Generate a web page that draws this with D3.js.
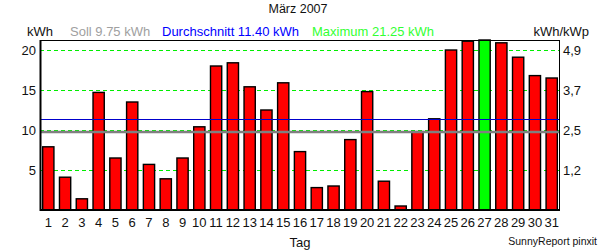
<!DOCTYPE html>
<html>
<head>
<meta charset="utf-8">
<script src="https://cdn.jsdelivr.net/npm/d3@7"></script>
<style>
  body { margin: 0; background: #fff; }
  svg text { font-family: "Liberation Sans", Arial, sans-serif; }
</style>
</head>
<body>
<svg id="chart" width="600" height="250"></svg>
<script>
// daily yield, März 2007 (kWh)
var days = d3.range(1, 32).map(String);
var yieldKwh = [7.9, 4.1, 1.4, 14.7, 6.5, 13.5, 5.7, 3.9, 6.5, 10.4,
                18.0, 18.4, 15.4, 12.5, 15.9, 7.3, 2.8, 3.0, 8.8, 14.8,
                3.6, 0.5, 9.8, 11.4, 20.0, 21.1, 21.25, 20.9, 19.1, 16.8, 16.5];
var leftTicks = [5, 10, 15, 20];
var rightTickLabels = ["1,2", "2,5", "3,7", "4,9"];
var soll = 9.75;
var avg = 11.40;
var maxVal = 21.25;

var svg = d3.select("#chart");
var plotL = 40, plotR = 559, plotT = 40, plotB = 210;

var x = d3.scaleBand().domain(days).range([plotL, plotR + 1]).paddingInner(0.33).paddingOuter(0.16);
var y = d3.scaleLinear().domain([0, maxVal]).range([plotB, plotT]);

// grid
svg.selectAll(".grid").data(leftTicks).enter().append("line")
    .attr("x1", plotL).attr("x2", plotR)
    .attr("y1", d => Math.round(y(d)) + 0.5).attr("y2", d => Math.round(y(d)) + 0.5)
    .attr("stroke", "#00ee00").attr("stroke-dasharray", "4,3");

// bars
svg.selectAll(".bar").data(yieldKwh).enter().append("rect")
    .attr("x", (d, i) => x(days[i]))
    .attr("width", x.bandwidth())
    .attr("y", d => y(d))
    .attr("height", d => plotB - y(d))
    .attr("fill", d => d === maxVal ? "#00ff00" : "#ff0000")
    .attr("stroke", "#000").attr("stroke-width", 1.4);

// soll + durchschnitt lines
svg.append("line").attr("x1", plotL).attr("x2", plotR)
    .attr("y1", y(soll)).attr("y2", y(soll))
    .attr("stroke", "#808080").attr("stroke-width", 2.5);
svg.append("line").attr("x1", plotL).attr("x2", plotR)
    .attr("y1", Math.round(y(avg)) + 0.5).attr("y2", Math.round(y(avg)) + 0.5)
    .attr("stroke", "#0000cc").attr("stroke-width", 1);

// frame
svg.append("rect").attr("x", plotL + 0.5).attr("y", plotT + 0.5)
    .attr("width", plotR - plotL).attr("height", plotB - plotT)
    .attr("fill", "none").attr("stroke", "#000");
svg.append("line").attr("x1", plotL + 0.5).attr("x2", plotL + 0.5).attr("y1", plotT).attr("y2", plotB + 1)
    .attr("stroke", "#000").attr("stroke-width", 2);
svg.append("line").attr("x1", plotL).attr("x2", plotR + 1).attr("y1", plotB).attr("y2", plotB)
    .attr("stroke", "#000").attr("stroke-width", 2);

// axis labels
svg.selectAll(".ly").data(leftTicks).enter().append("text")
    .attr("x", 36).attr("y", d => y(d) + 5)
    .attr("text-anchor", "end").attr("font-size", 13).attr("fill", "#111")
    .text(d => d);
svg.selectAll(".ry").data(leftTicks).enter().append("text")
    .attr("x", 563).attr("y", d => y(d) + 5)
    .attr("font-size", 13).attr("fill", "#111")
    .text((d, i) => rightTickLabels[i]);
svg.selectAll(".xl").data(days).enter().append("text")
    .attr("x", d => x(d) + x.bandwidth() / 2).attr("y", 227)
    .attr("text-anchor", "middle").attr("font-size", 13).attr("fill", "#111")
    .text(d => d);

svg.append("text").attr("x", 300).attr("y", 247).attr("text-anchor", "middle")
    .attr("font-size", 13).attr("fill", "#111").text("Tag");
svg.append("text").attr("x", 298).attr("y", 13).attr("text-anchor", "middle")
    .attr("font-size", 12.5).attr("fill", "#111").text("März 2007");
svg.append("text").attr("x", 597).attr("y", 245).attr("text-anchor", "end")
    .attr("font-size", 10.5).attr("fill", "#111").text("SunnyReport pinxit");

// header row
svg.append("text").attr("x", 27).attr("y", 36).attr("font-size", 13).attr("fill", "#111").text("kWh");
svg.append("text").attr("x", 70).attr("y", 36).attr("font-size", 13).attr("fill", "#a0a0a0")
    .text("Soll " + soll.toFixed(2) + " kWh");
svg.append("text").attr("x", 162).attr("y", 36).attr("font-size", 13).attr("fill", "#0000ff")
    .text("Durchschnitt " + avg.toFixed(2) + " kWh");
svg.append("text").attr("x", 312).attr("y", 36).attr("font-size", 13).attr("fill", "#33ff33")
    .text("Maximum " + maxVal.toFixed(2) + " kWh");
svg.append("text").attr("x", 589).attr("y", 36).attr("text-anchor", "end").attr("font-size", 13).attr("fill", "#111")
    .text("kWh/kWp");
</script>
</body>
</html>
